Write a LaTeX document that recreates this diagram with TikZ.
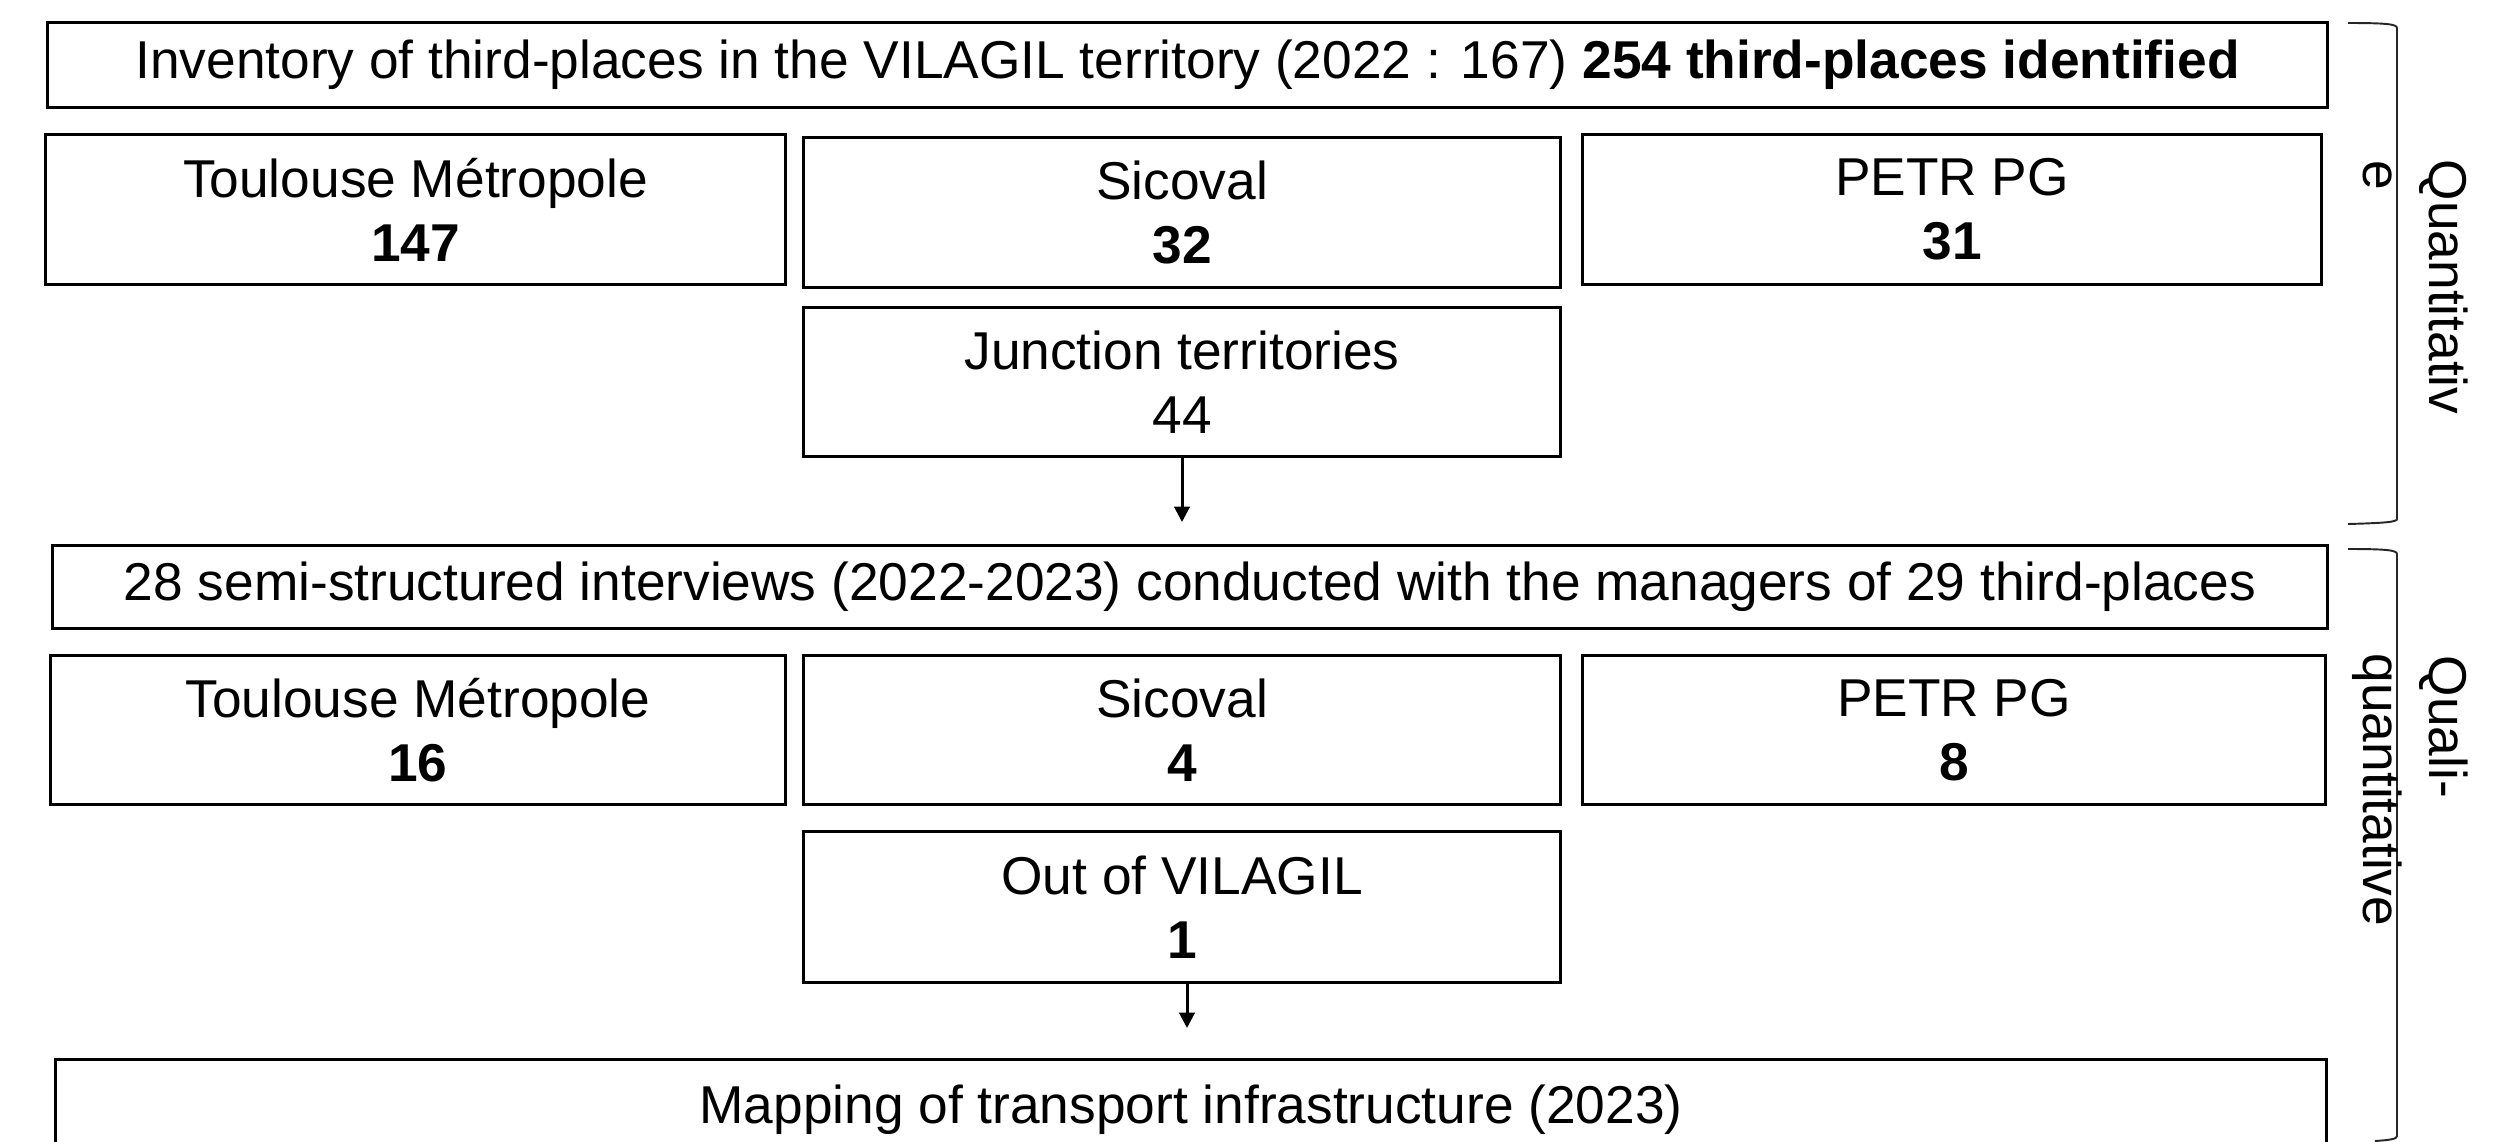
\documentclass[tikz,border=0pt]{standalone}
\usepackage{fontspec}
\setmainfont{Liberation Sans}
\usetikzlibrary{arrows.meta}
\begin{document}
\begin{tikzpicture}[x=0.01cm,y=-0.01cm,
  box/.style={draw=black, line width=0.85pt, inner sep=0pt, align=center,
    font=\fontsize{15.15}{18.2}\selectfont},
  arr/.style={line width=0.85pt, -{Triangle[width=4.4pt,length=4.4pt]}},
  bracket/.style={line width=0.55pt, draw=black!85},
  side/.style={rotate=-90, anchor=base west, inner sep=0pt,
    font=\fontsize{15.15}{18.2}\selectfont}]
\useasboundingbox (0,0) rectangle (2520,1142);
% quantitative part
\node[box, minimum width=22.79cm, minimum height=0.84cm] (inv) at (1187.5,65)
  {Inventory of third-places in the VILAGIL territory (2022 : 167) \textbf{254 third-places identified}};
\node[box, minimum width=7.39cm, minimum height=1.49cm] (tm1) at (415.5,209.5)
  {Toulouse Métropole\\\textbf{147}};
\node[box, minimum width=7.56cm, minimum height=1.49cm] (sic1) at (1182,212.5)
  {Sicoval\\\textbf{32}};
\node[box, minimum width=7.38cm, minimum height=1.49cm] (petr1) at (1952,209.5)
  {PETR PG\\\textbf{31}};
\node[box, minimum width=7.56cm, minimum height=1.48cm] (junc) at (1182,382)
  {Junction territories\\44};
\coordinate (a1end) at (1182,522);
\draw[arr] (junc.south) -- (a1end);
% quali-quantitative part
\node[box, minimum width=22.74cm, minimum height=0.82cm] (int) at (1190,587)
  {28 semi-structured interviews (2022-2023) conducted with the managers of 29 third-places};
\node[box, minimum width=7.34cm, minimum height=1.48cm] (tm2) at (418,730)
  {Toulouse Métropole\\\textbf{16}};
\node[box, minimum width=7.56cm, minimum height=1.48cm] (sic2) at (1182,730)
  {Sicoval\\\textbf{4}};
\node[box, minimum width=7.42cm, minimum height=1.48cm] (petr2) at (1954,730)
  {PETR PG\\\textbf{8}};
\node[box, minimum width=7.56cm, minimum height=1.50cm] (out) at (1182,907)
  {Out of VILAGIL\\\textbf{1}};
\coordinate (a2end) at (1187,1028);
\draw[arr] (out.south -| a2end) -- (a2end);
\node[box, minimum width=22.70cm, minimum height=1.00cm] (map) at (1191,1110)
  {Mapping of transport infrastructure (2023)};
% brackets
\draw[bracket] (2348,23) .. controls (2385,23) and (2397,24) .. (2397,28)
  -- (2397,519) .. controls (2397,522) and (2385,523) .. (2348,524);
\draw[bracket] (2348,549) .. controls (2385,549) and (2397,550) .. (2397,554)
  -- (2397,1136) .. controls (2397,1139) and (2390,1140) .. (2375,1141);
\node[side] (q1) at (2429,159) {Quantitativ};
\node[side] (q2) at (2363,160) {e};
\node[side] (l1) at (2429,655) {Quali-};
\node[side] (l2) at (2363,653) {quantitative};
\end{tikzpicture}
\end{document}
